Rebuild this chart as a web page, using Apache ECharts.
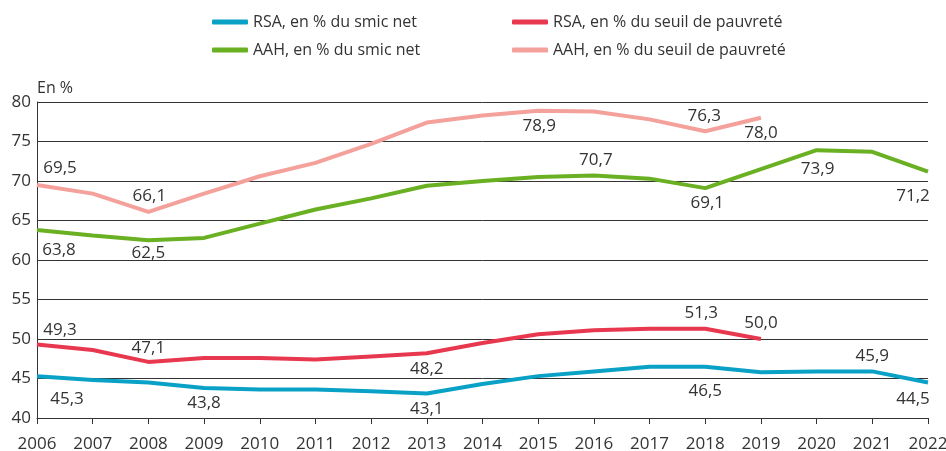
<!DOCTYPE html>
<html>
<head>
<meta charset="utf-8">
<script src="https://cdn.jsdelivr.net/npm/echarts@6/dist/echarts.min.js"></script>
<style>
html,body{margin:0;padding:0;background:#fff;}
#chart{width:946px;height:451px;}
</style>
</head>
<body>
<div id="chart"></div>
<script>
// ---------- DATA ----------
const years = ['2006','2007','2008','2009','2010','2011','2012','2013','2014','2015','2016','2017','2018','2019','2020','2021','2022'];
const rsaSmic = [45.3, 44.8, 44.5, 43.8, 43.6, 43.6, 43.4, 43.1, 44.3, 45.3, 45.9, 46.5, 46.5, 45.8, 45.9, 45.9, 44.5];
const rsaPauv = [49.3, 48.6, 47.1, 47.6, 47.6, 47.4, 47.8, 48.2, 49.5, 50.6, 51.1, 51.3, 51.3, 50.0];
const aahSmic = [63.8, 63.1, 62.5, 62.8, 64.6, 66.4, 67.8, 69.4, 70.0, 70.5, 70.7, 70.3, 69.1, 71.5, 73.9, 73.7, 71.2];
const aahPauv = [69.5, 68.4, 66.1, 68.4, 70.6, 72.3, 74.7, 77.4, 78.3, 78.9, 78.8, 77.8, 76.3, 78.0];
const seriesNames = ['RSA, en % du smic net','RSA, en % du seuil de pauvreté','AAH, en % du smic net','AAH, en % du seuil de pauvreté'];
const yTicks = {min: 40, max: 80, interval: 5};
const unitLabel = 'En %';

// ---------- STYLE ----------
const colors = ['#0aa1c6', '#e8384f', '#6ab023', '#f4a19b'];
const FONT = '"Open Sans", sans-serif';
const TXT = '#333333';
// which points are labelled: [index, position, dx, dy]
const labelSpecs = [
  [[0,'bottom',30,8],[3,'bottom',0,0],[7,'bottom',0,0],[12,'bottom',0,9],[15,'top',0,0],[16,'bottom',-15,1]],
  [[0,'top',23,1],[2,'top',0,2],[7,'bottom',0,0],[12,'top',-4,0],[13,'top',0,0]],
  [[0,'bottom',22,5],[2,'bottom',0,-3],[10,'top',2,0],[12,'bottom',2,0],[14,'bottom',1,3],[16,'bottom',-15,9]],
  [[0,'top',23,-1],[2,'top',1,0],[9,'bottom',1,0],[12,'top',-1,0],[13,'bottom',0,0]]
];
const allData = [rsaSmic, rsaPauv, aahSmic, aahPauv];

function fmt(v){ return v.toFixed(1).replace('.', ','); }

function specMap(specs){
  const m = {};
  specs.forEach(s => { m[s[0]] = s; });
  return m;
}
const specMaps = labelSpecs.map(specMap);

function buildData(arr, m){
  return arr.map((v, i) => {
    const s = m[i];
    if (!s) return v;
    return {
      value: v,
      label: {
        show: true, position: s[1], distance: 7,
        formatter: p => fmt(p.value),
        fontFamily: FONT, fontSize: 17, color: TXT
      }
    };
  });
}

const chart = echarts.init(document.getElementById('chart'), null, {renderer: 'canvas'});
const legendCommon = {
  orient: 'vertical', top: 7, itemGap: 8, itemWidth: 36, itemHeight: 5, itemTextGap: 4,
  icon: 'roundRect',
  textStyle: {fontFamily: FONT, fontSize: 16, color: TXT, lineHeight: 20}
};
chart.setOption({
  animation: false,
  color: colors,
  legend: [
    Object.assign({}, legendCommon, {left: 207, data: [seriesNames[0], seriesNames[2]]}),
    Object.assign({}, legendCommon, {left: 507, data: [seriesNames[1], seriesNames[3]]})
  ],
  grid: {left: 37, right: 18, top: 102, bottom: 33, containLabel: false, outerBoundsMode: 'none'},
  xAxis: {
    type: 'category', data: years, boundaryGap: false,
    axisLine: {show: true, lineStyle: {color: TXT, width: 1}},
    axisTick: {show: true, length: 6, lineStyle: {color: TXT}},
    axisLabel: {fontFamily: FONT, fontSize: 17, color: TXT, margin: 18},
    splitLine: {show: false}
  },
  yAxis: {
    type: 'value', min: yTicks.min, max: yTicks.max, interval: yTicks.interval,
    name: unitLabel, nameLocation: 'end', nameGap: 6,
    nameTextStyle: {fontFamily: FONT, fontSize: 16, color: TXT, align: 'left', padding: [0,0,0,0]},
    axisLine: {show: true, lineStyle: {color: TXT, width: 1}},
    axisTick: {show: false},
    axisLabel: {fontFamily: FONT, fontSize: 17, color: TXT, margin: 6},
    splitLine: {show: true, lineStyle: {color: TXT, width: 1}}
  },
  series: allData.map((arr, k) => ({
    name: seriesNames[k],
    type: 'line',
    data: buildData(arr, specMaps[k]),
    showSymbol: true,
    symbol: 'circle',
    symbolSize: 0.01,
    lineStyle: {width: 4, color: colors[k]},
    itemStyle: {color: colors[k]},
    labelLayout: function (p) {
      const s = specMaps[k][p.dataIndex];
      if (!s) return {};
      return {dx: s[2], dy: s[3], hideOverlap: false};
    },
    z: 3
  }))
});
</script>
</body>
</html>
